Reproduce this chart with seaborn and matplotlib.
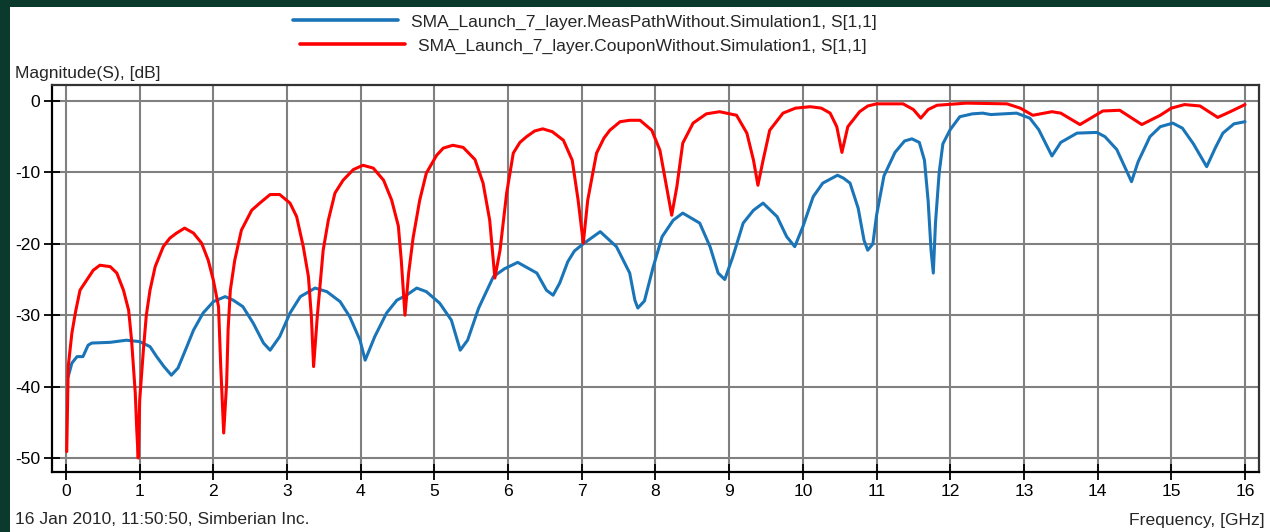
import numpy as np
import pandas as pd
import matplotlib
matplotlib.use('Agg')
import matplotlib.pyplot as plt
from matplotlib.patches import Rectangle
import seaborn as sns

freq_meas = [0.03, 0.08, 0.15, 0.23, 0.3, 0.35, 0.6, 0.82, 1.0, 1.14, 1.23, 1.33, 1.43, 1.52,
             1.64, 1.73, 1.86, 2.0, 2.16, 2.27, 2.4, 2.54, 2.68, 2.77, 2.9, 3.04, 3.18, 3.38,
             3.54, 3.72, 3.85, 3.99, 4.06, 4.19, 4.35, 4.49, 4.62, 4.76, 4.89, 5.07, 5.23, 5.35,
             5.45, 5.6, 5.8, 5.95, 6.13, 6.39, 6.52, 6.61, 6.7, 6.81, 6.9, 7.02, 7.25, 7.47,
             7.65, 7.72, 7.76, 7.85, 7.97, 8.09, 8.24, 8.37, 8.6, 8.74, 8.85, 8.94, 9.05, 9.19,
             9.33, 9.46, 9.65, 9.78, 9.89, 10.0, 10.14, 10.27, 10.47, 10.55, 10.64, 10.75, 10.83,
             10.88, 10.95, 11.0, 11.1, 11.25, 11.38, 11.48, 11.58, 11.65, 11.7, 11.74, 11.77,
             11.8, 11.85, 11.9, 12.0, 12.13, 12.3, 12.44, 12.55, 12.9, 13.08, 13.2, 13.38, 13.5,
             13.72, 13.99, 14.1, 14.26, 14.38, 14.46, 14.55, 14.71, 14.85, 15.02, 15.15, 15.3,
             15.48, 15.6, 15.7, 15.85, 16.0]
mag_meas = [-38.6, -36.7, -35.8, -35.8, -34.2, -33.9, -33.8, -33.5, -33.7, -34.4, -35.8, -37.2,
            -38.4, -37.4, -34.4, -32.1, -29.7, -28.1, -27.4, -27.9, -28.8, -31.1, -33.9, -34.9,
            -33.0, -29.7, -27.4, -26.2, -26.7, -28.1, -30.2, -33.5, -36.3, -33.0, -29.7, -27.9,
            -27.2, -26.2, -26.7, -28.3, -30.7, -34.9, -33.5, -29.0, -24.6, -23.5, -22.6, -24.1,
            -26.5, -27.2, -25.5, -22.5, -21.0, -20.0, -18.3, -20.4, -24.1, -27.9, -29.0, -28.0,
            -23.2, -19.0, -16.7, -15.7, -17.1, -20.4, -24.1, -25.0, -21.8, -17.1, -15.3, -14.3,
            -16.2, -19.0, -20.4, -17.6, -13.4, -11.5, -10.4, -10.8, -11.5, -15.0, -19.5, -20.9,
            -20.0, -16.0, -10.5, -7.2, -5.6, -5.3, -5.8, -8.3, -14.0, -21.0, -24.1, -17.0,
            -10.0, -6.0, -4.0, -2.2, -1.8, -1.7, -1.9, -1.7, -2.4, -4.0, -7.7, -5.8, -4.5, -4.4,
            -5.0, -6.8, -9.5, -11.3, -8.5, -5.0, -3.6, -3.1, -3.8, -6.0, -9.2, -6.5, -4.5, -3.2,
            -2.9]

# S11 of the coupon (red)
freq_coupon = [0.01, 0.03, 0.08, 0.13, 0.19, 0.28, 0.37, 0.46, 0.6, 0.69, 0.78, 0.85, 0.89, 0.94,
               0.96, 0.98, 1.0, 1.05, 1.09, 1.14, 1.21, 1.32, 1.41, 1.5, 1.61, 1.73, 1.84, 1.93,
               2.0, 2.07, 2.1, 2.14, 2.18, 2.2, 2.23, 2.29, 2.38, 2.52, 2.63, 2.77, 2.9, 3.04,
               3.13, 3.22, 3.29, 3.33, 3.36, 3.41, 3.49, 3.56, 3.65, 3.76, 3.9, 4.03, 4.17, 4.31,
               4.42, 4.51, 4.55, 4.6, 4.65, 4.71, 4.8, 4.89, 5.03, 5.12, 5.25, 5.39, 5.55, 5.66,
               5.75, 5.82, 5.89, 5.98, 6.07, 6.16, 6.25, 6.36, 6.47, 6.6, 6.75, 6.87, 6.95, 7.02,
               7.08, 7.2, 7.3, 7.38, 7.52, 7.65, 7.79, 7.95, 8.06, 8.15, 8.22, 8.29, 8.37, 8.51,
               8.69, 8.87, 9.1, 9.24, 9.33, 9.39, 9.46, 9.55, 9.73, 9.9, 10.1, 10.25, 10.37,
               10.46, 10.53, 10.61, 10.77, 10.88, 11.0, 11.36, 11.5, 11.6, 11.7, 11.82, 12.22,
               12.77, 12.95, 13.12, 13.38, 13.5, 13.76, 14.07, 14.3, 14.6, 14.85, 15.0, 15.18,
               15.39, 15.63, 15.8, 16.0]
mag_coupon = [-49.1, -37.2, -32.5, -29.5, -26.5, -25.1, -23.7, -23.0, -23.2, -24.1, -26.5, -29.3,
              -33.5, -40.9, -46.0, -50.0, -41.9, -34.9, -30.0, -26.5, -23.2, -20.4, -19.2, -18.5,
              -17.8, -18.5, -19.9, -22.3, -25.1, -28.8, -37.2, -46.5, -39.5, -32.0, -26.5, -22.3,
              -18.1, -15.3, -14.3, -13.1, -13.1, -14.3, -16.2, -20.4, -24.6, -30.2, -37.2, -30.2,
              -20.9, -16.7, -12.9, -11.1, -9.6, -9.0, -9.4, -11.1, -13.9, -17.5, -22.3, -30.0,
              -24.1, -19.2, -13.9, -10.1, -7.6, -6.6, -6.2, -6.5, -8.2, -11.5, -16.7, -24.8,
              -20.9, -12.9, -7.3, -5.8, -5.0, -4.2, -3.9, -4.3, -5.5, -8.3, -13.9, -19.9, -13.9,
              -7.3, -5.2, -4.1, -2.9, -2.7, -2.7, -4.1, -6.9, -12.0, -16.0, -12.0, -5.9, -3.1,
              -1.8, -1.5, -2.0, -4.5, -8.3, -11.8, -8.3, -4.1, -1.7, -1.0, -0.8, -1.0, -1.7,
              -3.6, -7.2, -3.6, -1.5, -0.7, -0.4, -0.4, -1.2, -2.4, -1.2, -0.6, -0.3, -0.4, -1.0,
              -2.0, -1.5, -1.7, -3.3, -1.4, -1.3, -3.3, -2.0, -1.0, -0.5, -0.7, -2.3, -1.5, -0.5]

label_meas = 'SMA_Launch_7_layer.MeasPathWithout.Simulation1, S[1,1]'
label_coupon = 'SMA_Launch_7_layer.CouponWithout.Simulation1, S[1,1]'
x_ticks = list(range(0, 17))
y_ticks = [0, -10, -20, -30, -40, -50]

sns.set_style('white')
plt.rcParams['font.family'] = ['Liberation Sans', 'DejaVu Sans']
plt.rcParams['axes.unicode_minus'] = False
fs = 12.6

W, H = 1270, 532
fig = plt.figure(figsize=(W / 100, H / 100), dpi=100, facecolor='#0b3a2c')
fig.add_artist(Rectangle((10 / W, 0), 1, (H - 7) / H, transform=fig.transFigure,
                         facecolor='white', edgecolor='none', zorder=0))

ax = fig.add_axes([52 / W, (H - 472) / H, (1259 - 52) / W, (472 - 85) / H])
ax.set_facecolor('white')

df_meas = pd.DataFrame({'f': freq_meas, 'mag': mag_meas})
df_coupon = pd.DataFrame({'f': freq_coupon, 'mag': mag_coupon})
sns.lineplot(data=df_meas, x='f', y='mag', ax=ax, color='#1a75b8', lw=2.2,
             estimator=None, zorder=3)
sns.lineplot(data=df_coupon, x='f', y='mag', ax=ax, color='#ff0000', lw=2.2,
             estimator=None, zorder=3)

ax.set_xlim(-0.19, 16.19)
ax.set_ylim(-51.96, 2.24)
ax.set_xticks(x_ticks)
ax.set_yticks(y_ticks)
ax.grid(True, color='#808080', lw=1.5)
ax.set_axisbelow(True)
ax.set_xlabel('')
ax.set_ylabel('')
ax.tick_params(bottom=True, left=True, direction='inout', length=11, width=1.3,
               color='black', labelsize=fs, labelcolor='black')
ax.tick_params(axis='y', pad=3)
ax.tick_params(axis='x', pad=3)
for side in ['left', 'bottom']:
    ax.spines[side].set_color('black')
    ax.spines[side].set_linewidth(1.6)
for side in ['top', 'right']:
    ax.spines[side].set_color('#333333')
    ax.spines[side].set_linewidth(1.6)

# legend entries, each centred on its own row
h_meas = plt.Line2D([], [], color='#1a75b8', lw=2.6)
h_coupon = plt.Line2D([], [], color='#ff0000', lw=2.6)
fig.legend([h_meas], [label_meas], loc='center', bbox_to_anchor=(585 / W, 1 - 22 / H),
           frameon=False, handlelength=6.0, handletextpad=0.75, fontsize=fs)
fig.legend([h_coupon], [label_coupon], loc='center', bbox_to_anchor=(583 / W, 1 - 46 / H),
           frameon=False, handlelength=6.0, handletextpad=0.75, fontsize=fs)

fig.text(15 / W, 1 - 73 / H, 'Magnitude(S), [dB]', ha='left', va='center', fontsize=fs)
fig.text(15 / W, 1 - 520 / H, '16 Jan 2010, 11:50:50, Simberian Inc.', ha='left', va='center',
         fontsize=fs)
fig.text(1265 / W, 1 - 520 / H, 'Frequency, [GHz]', ha='right', va='center', fontsize=fs)

fig.savefig('out.png', dpi=100, facecolor=fig.get_facecolor())
